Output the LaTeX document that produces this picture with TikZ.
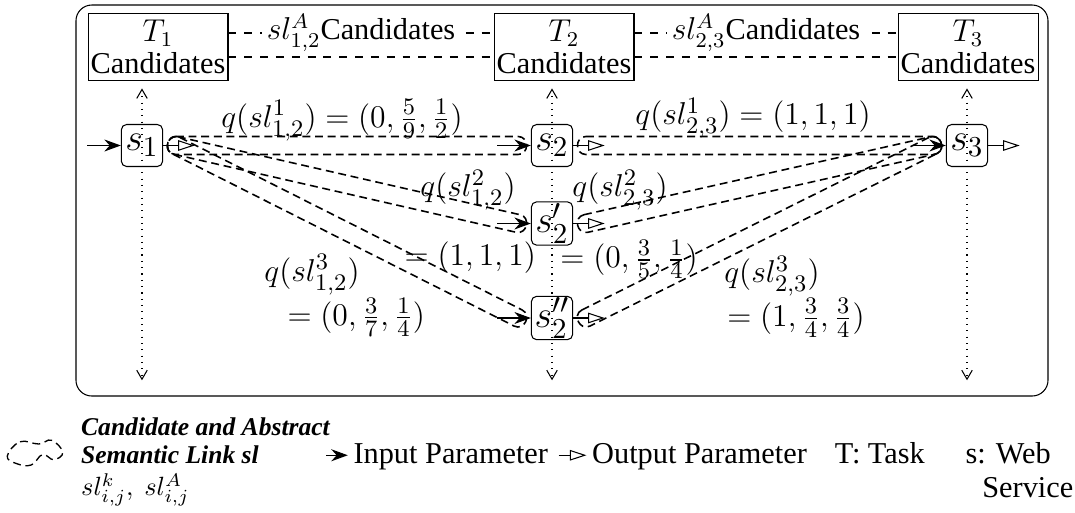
\documentclass[tikz,border=0pt,11pt]{standalone}
\usepackage{fontspec}
\setmainfont{Liberation Serif}
\usepackage{amsmath}
\usetikzlibrary{positioning, arrows.meta, calc}

\begin{document}
\begin{tikzpicture}[
    node distance=0.3cm,
    task/.style={draw, minimum width=1.85cm, minimum height=0.89cm, inner sep=1pt, align=center, font=\fontsize{11.5}{12}\selectfont},
    service/.style={draw, rounded corners=2pt, minimum width=0.55cm, minimum height=0.56cm, inner sep=0.5pt, font=\fontsize{15.5}{16}\selectfont},
    qlabel/.style={inner sep=1pt, font=\fontsize{12.5}{14}\selectfont},
    absname/.style={fill=white, inner sep=2pt, font=\fontsize{11.5}{12}\selectfont},
    inarrow/.style={-{Stealth[length=2.2mm, width=1.6mm]}},
    outarrow/.style={-{Triangle[open, length=2.2mm, width=1.4mm]}},
    link/.style={line width=0.6pt, dash pattern=on 3pt off 1.8pt},
    guide/.style={dotted, {Straight Barb[length=1.2mm, width=1.4mm]}-{Straight Barb[length=1.2mm, width=1.4mm]}},
    legend/.style={inner sep=1pt, text height=1.6ex, text depth=0.4ex, font=\fontsize{11.5}{12}\selectfont},
    legblock/.style={inner sep=1pt, align=left, font=\fontsize{9.7}{10.4}\selectfont},
]
\useasboundingbox (0,0) rectangle (14.333,-6.827);
\draw[rounded corners=6pt] (1.013,-0.067) rectangle (13.973,-5.28);

% tasks
\node[task] (T1) at (2.107,-0.627) {$T_1$\\Candidates};
\node[task] (T2) at (7.52,-0.627) {$T_2$\\Candidates};
\node[task] (T3) at (12.907,-0.627) {$T_3$\\Candidates};
\draw[dashed] ([yshift=0.187cm]T1.east) -- node[absname] {$sl^A_{1,2}$Candidates} ([yshift=0.187cm]T2.west);
\draw[dashed] ([yshift=0.187cm]T2.east) -- node[absname] {$sl^A_{2,3}$Candidates} ([yshift=0.187cm]T3.west);
\draw[dashed] ([yshift=-0.133cm]T1.east) -- ([yshift=-0.133cm]T2.west);
\draw[dashed] ([yshift=-0.133cm]T2.east) -- ([yshift=-0.133cm]T3.west);

% web services
\node[service] (s1) at (1.893,-1.94) {$s_1$};
\node[service] (s2) at (7.36,-1.94) {$s_2$};
\node[service] (s2p) at (7.36,-2.98) {$s_2'$};
\node[service] (s2pp) at (7.36,-4.24) {$s_2''$};
\node[service] (s3) at (12.893,-1.94) {$s_3$};

\coordinate (bot) at (0,-5.07);
\foreach \t/\s in {T1/s1, T2/s2, T3/s3}
    \draw[guide, shorten <=0.1cm] (\t.south -| \s) -- (\s |- bot);

% semantic links
\foreach \src/\dst in {s1/s2, s1/s2p, s1/s2pp, s2/s3, s2p/s3, s2pp/s3} {
    \coordinate (lo) at ($(\src.east)+(0.17,0)$);
    \coordinate (li) at ($(\dst.west)-(0.17,0)$);
    \draw[link] ($(lo)!0.12cm!90:(li)$) -- ($(li)!0.12cm!-90:(lo)$)
        to[bend left=90, looseness=1.6] ($(li)!0.12cm!90:(lo)$)
        -- ($(lo)!0.12cm!-90:(li)$)
        to[bend left=90, looseness=1.6] ($(lo)!0.12cm!90:(li)$);
}
\foreach \s in {s1, s2, s2p, s2pp, s3} {
    \coordinate (\s-o) at ($(\s.east)+(0.42,0)$);
    \coordinate (\s-i) at ($(\s.west)-(0.45,0)$);
    \draw[outarrow] (\s) -- (\s-o);
    \draw[inarrow] (\s-i) -- (\s);
}

% link qualities
\node[qlabel] (q12a) at (4.56,-1.6) {$q(sl^1_{1,2}) = (0, \frac{5}{9}, \frac{1}{2})$};
\node[qlabel] (q12b) at (6.24,-2.533) {$q(sl^2_{1,2})$};
\node[qlabel] (q12bv) at (6.27,-3.43) {$= (1, 1, 1)$};
\node[qlabel] (q12c) at (4.16,-3.66) {$q(sl^3_{1,2})$};
\node[qlabel] (q12cv) at (4.75,-4.23) {$= (0, \frac{3}{7}, \frac{1}{4})$};
\node[qlabel] (q23a) at (10.04,-1.573) {$q(sl^1_{2,3}) = (1, 1, 1)$};
\node[qlabel] (q23b) at (8.267,-2.533) {$q(sl^2_{2,3})$};
\node[qlabel] (q23bv) at (8.387,-3.46) {$= (0, \frac{3}{5}, \frac{1}{4})$};
\node[qlabel] (q23c) at (10.293,-3.68) {$q(sl^3_{2,3})$};
\node[qlabel] (q23cv) at (10.613,-4.24) {$= (1, \frac{3}{4}, \frac{3}{4})$};

% legend
\coordinate (cloud) at (0.467,-6.03);
\draw[link, line width=0.5pt, shift={(cloud)}] plot[smooth cycle, tension=0.7]
    coordinates {(-0.37,-0.05) (-0.2,0.14) (0.05,0.11) (0.22,0.16) (0.37,0.0) (0.25,-0.1) (0.1,-0.03) (-0.05,-0.17) (-0.25,-0.15)};
\node[legblock, anchor=north west] (legtxt) at (1.04,-5.53)
    {\textbf{\textit{Candidate and Abstract}}\\\textbf{\textit{Semantic Link sl}}\\[2pt]$sl^k_{i,j},\ sl^A_{i,j}$};
\coordinate (leg-in-a) at (4.347,-6.07);
\coordinate[right=0.29cm of leg-in-a] (leg-in-b);
\draw[inarrow] (leg-in-a) -- (leg-in-b);
\node[legend, right=1pt of leg-in-b] (leg-in) {Input Parameter};
\coordinate[right=0.1cm of leg-in] (leg-out-a);
\coordinate[right=0.37cm of leg-out-a] (leg-out-b);
\draw[outarrow] (leg-out-a) -- (leg-out-b);
\node[legend, right=1pt of leg-out-b] (leg-out) {Output Parameter};
\node[legend, right=0.29cm of leg-out] (leg-task) {T: Task};
\node[legend, right=0.46cm of leg-task] (leg-ws) {s: Web};
\node[legend, anchor=north east] (leg-ws2) at ([xshift=0.3cm, yshift=-0.02cm]leg-ws.south east) {Service};
\end{tikzpicture}
\end{document}
